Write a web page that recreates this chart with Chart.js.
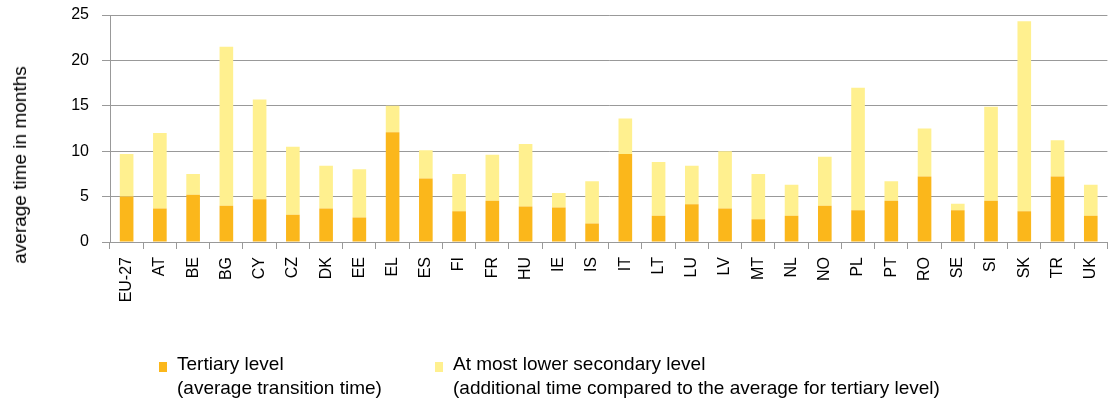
<html lang="en">
<head>
    <meta charset="UTF-8">
    <title>Transition time</title>
    <script src="https://cdn.jsdelivr.net/npm/chart.js"></script>
    <style>
        body {
            margin: 0;
            background: #fff;
        }
        .wrap {
            position: relative;
            width: 1118px;
            height: 403px;
            font-family: "Liberation Sans", Arial, sans-serif;
            color: #000;
        }
        #barChart {
            position: absolute;
            left: 0;
            top: 0;
        }
        .ytitle {
            position: absolute;
            left: 20px;
            top: 165px;
            font-size: 19px;
            white-space: nowrap;
            transform: translate(-50%, -50%) rotate(-90deg);
        }
        .legend-item {
            position: absolute;
            top: 352px;
            font-size: 19px;
            line-height: 24px;
            white-space: nowrap;
        }
        .legend-item .box {
            position: absolute;
            left: -18px;
            top: 10px;
            width: 8px;
            height: 10px;
        }
    </style>
</head>
<body>
    <div class="wrap">
        <canvas id="barChart" width="1118" height="403"></canvas>
        <div class="ytitle">average time in months</div>
        <div id="legend"></div>
    </div>

    <script>
        const categories = ['EU-27', 'AT', 'BE', 'BG', 'CY', 'CZ', 'DK', 'EE', 'EL', 'ES', 'FI', 'FR', 'HU', 'IE', 'IS',
            'IT', 'LT', 'LU', 'LV', 'MT', 'NL', 'NO', 'PL', 'PT', 'RO', 'SE', 'SI', 'SK', 'TR', 'UK'];
        // tertiary level: average transition time (months)
        const tertiary = [5.0, 3.7, 5.2, 4.0, 4.7, 3.0, 3.7, 2.7, 12.1, 7.0, 3.4, 4.55, 3.9, 3.8, 2.05,
            9.7, 2.9, 4.15, 3.7, 2.5, 2.9, 4.0, 3.5, 4.55, 7.2, 3.5, 4.55, 3.4, 7.2, 2.9];
        // at most lower secondary: additional time on top of tertiary
        const additional = [4.7, 8.3, 2.3, 17.5, 11.0, 7.5, 4.7, 5.3, 2.9, 3.1, 4.1, 5.05, 6.9, 1.6, 4.65,
            3.9, 5.9, 4.25, 6.3, 5.0, 3.4, 5.4, 13.5, 2.15, 5.3, 0.7, 10.35, 20.9, 4.0, 3.4];
        const yTicks = [0, 5, 10, 15, 20, 25];

        const seriesNames = ['Tertiary level', 'At most lower secondary level'];
        const seriesNotes = ['(average transition time)', '(additional time compared to the average for tertiary level)'];
        const seriesColors = ['#FBB71B', '#FFF08F'];

        const FONT = '"Liberation Sans", Arial, sans-serif';

        const chart = new Chart(document.getElementById('barChart'), {
            type: 'bar',
            data: {
                labels: categories,
                datasets: [{
                    label: seriesNames[0],
                    data: tertiary,
                    backgroundColor: seriesColors[0]
                }, {
                    label: seriesNames[1],
                    data: additional,
                    backgroundColor: seriesColors[1]
                }]
            },
            options: {
                responsive: false,
                animation: false,
                layout: {
                    padding: { top: 15, right: 1, left: 0, bottom: 0 }
                },
                datasets: {
                    bar: { barPercentage: 0.41, categoryPercentage: 1.0 }
                },
                plugins: {
                    legend: { display: false },
                    tooltip: { enabled: false }
                },
                scales: {
                    x: {
                        stacked: true,
                        grid: {
                            offset: true,
                            drawOnChartArea: false,
                            tickLength: 7,
                            color: '#999'
                        },
                        border: { color: '#999' },
                        ticks: {
                            minRotation: 90,
                            maxRotation: 90,
                            autoSkip: false,
                            padding: 8,
                            color: '#000',
                            font: { family: FONT, size: 16 }
                        },
                        afterFit: s => { s.height = 161; }
                    },
                    y: {
                        stacked: true,
                        min: 0,
                        max: 25,
                        afterBuildTicks: s => { s.ticks = yTicks.map(v => ({ value: v })); },
                        grid: { tickLength: 8, color: '#999' },
                        border: { color: '#999' },
                        ticks: {
                            padding: 13,
                            color: '#000',
                            font: { family: FONT, size: 16 }
                        },
                        afterFit: s => {
                            s.width = 110;
                            // tick padding would otherwise push the plot down
                            s.paddingTop = 0;
                            s.paddingBottom = 0;
                        }
                    }
                }
            }
        });

        // legend with two-line labels
        const legendLeft = [177, 453];
        const legend = document.getElementById('legend');
        seriesNames.forEach((name, i) => {
            legend.innerHTML += `<div class="legend-item" style="left:${legendLeft[i]}px">
                <span class="box" style="background:${seriesColors[i]}"></span>${name}<br>${seriesNotes[i]}</div>`;
        });
    </script>
</body>
</html>
